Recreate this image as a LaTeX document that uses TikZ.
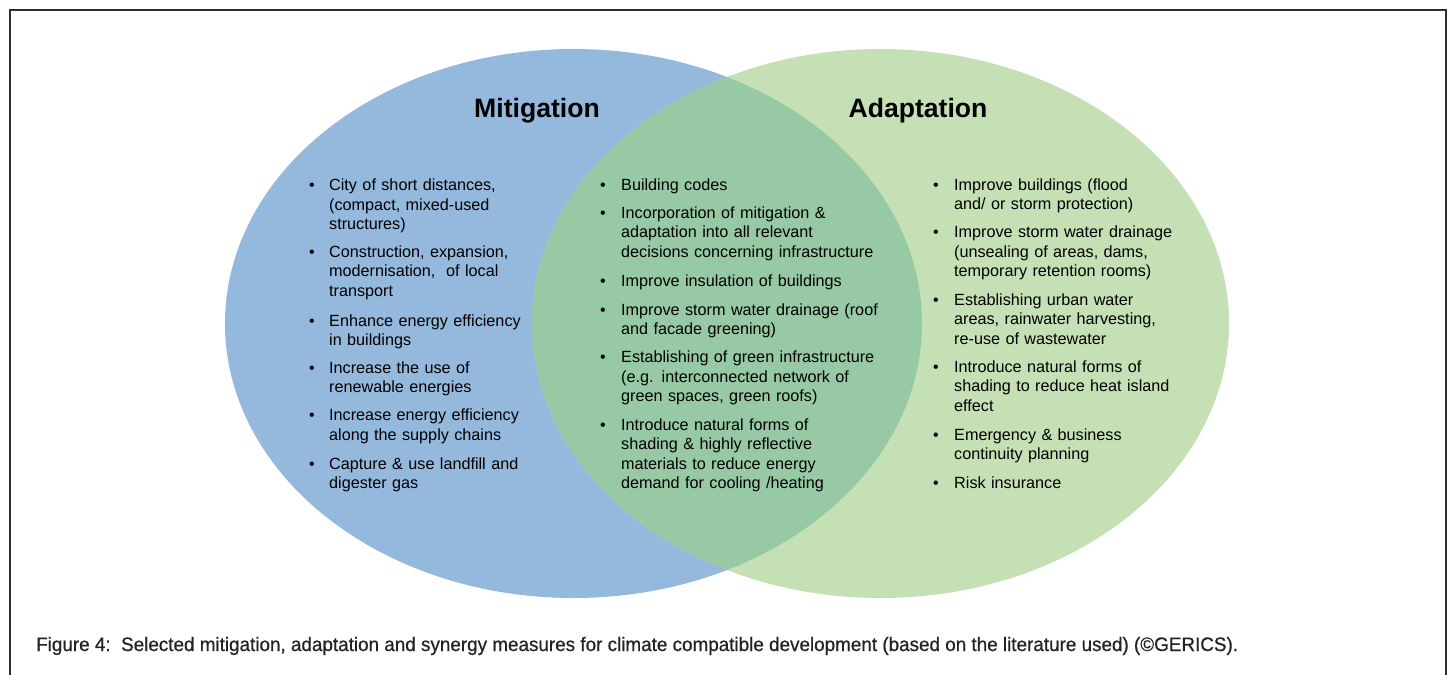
\documentclass[tikz,border=0pt]{standalone}
\usepackage{fontspec}
\setmainfont{Liberation Sans}
\usepackage{graphicx}
\definecolor{mitblue}{RGB}{149,185,221}
\definecolor{adagreen}{RGB}{197,224,180}
\definecolor{syngreen}{RGB}{150,201,164}
\definecolor{framegray}{RGB}{45,45,45}
\definecolor{captext}{RGB}{35,35,35}
\tikzset{
  itm/.style={inner sep=0pt, text width=300pt, align=left, anchor=base west,
    font=\fontsize{16.2}{19.5}\selectfont},
  blt/.style={inner sep=0pt, anchor=base, font=\fontsize{16}{19.5}\selectfont},
  ttl/.style={inner sep=0pt, anchor=base, font=\fontsize{26.6}{30}\selectfont\bfseries},
  framestyle/.style={draw=framegray, line width=2pt},
}
\newcommand{\bitem}[5]{%
  \node[itm] (#1) at (#2,#3) {#5};
  \node[blt] (#1b) at (#4,#3) {•};
}
\begin{document}
\begin{tikzpicture}[x=1pt,y=-1pt]
\useasboundingbox (0,0) rectangle (1452,675);
\fill[white] (0,0) rectangle (1452,675);
\draw[framestyle] (10,690) -- (10,10) -- (1446,10) -- (1446,690);
% ellipses
\fill[mitblue] (573.5,323.5) ellipse [x radius=348.5, y radius=274.5];
\fill[adagreen] (880.5,323.5) ellipse [x radius=348.5, y radius=274.5];
\begin{scope}
  \clip (573.5,323.5) ellipse [x radius=348.5, y radius=274.5];
  \fill[syngreen] (880.5,323.5) ellipse [x radius=348.5, y radius=274.5];
\end{scope}
% titles
\node[ttl] (mit) at (537,117.3) {Mitigation};
\node[ttl] (ada) at (918,117.3) {Adaptation};
% left column
\bitem{m1}{329}{190.7}{312}{City of short distances,\\(compact, mixed-used\\structures)}
\bitem{m2}{329}{257.3}{312}{Construction, expansion,\\modernisation,\ \ of local\\transport}
\bitem{m3}{329}{326}{312}{Enhance energy efficiency\\in buildings}
\bitem{m4}{329}{373.3}{312}{Increase the use of\\renewable energies}
\bitem{m5}{329}{420.7}{312}{Increase energy efficiency\\along the supply chains}
\bitem{m6}{329}{469.3}{312}{Capture \& use landfill and\\digester gas}
% middle column
\bitem{s1}{621}{190}{603}{Building codes}
\bitem{s2}{621}{218.3}{603}{Incorporation of mitigation \&\\adaptation into all relevant\\decisions concerning infrastructure}
\bitem{s3}{621}{286}{603}{Improve insulation of buildings}
\bitem{s4}{621}{315}{603}{Improve storm water drainage (roof\\and facade greening)}
\bitem{s5}{621}{362.7}{603}{Establishing of green infrastructure\\(e.g. interconnected network of\\green spaces, green roofs)}
\bitem{s6}{621}{430}{603}{Introduce natural forms of\\shading \& highly reflective\\materials to reduce energy\\demand for cooling /heating}
% right column
\bitem{a1}{954}{190}{936}{Improve buildings (flood\\and/ or storm protection)}
\bitem{a2}{954}{237.7}{936}{Improve storm water drainage\\(unsealing of areas, dams,\\temporary retention rooms)}
\bitem{a3}{954}{305}{936}{Establishing urban water\\areas, rainwater harvesting,\\re-use of wastewater}
\bitem{a4}{954}{372.3}{936}{Introduce natural forms of\\shading to reduce heat island\\effect}
\bitem{a5}{954}{440}{936}{Emergency \& business\\continuity planning}
\bitem{a6}{954}{488.3}{936}{Risk insurance}
% caption
\node[inner sep=0pt, anchor=base west, text=captext, font=\fontsize{19.5}{22}\selectfont\addfontfeature{FakeBold=0.6}] (cap) at (36,651)
  {\resizebox{1202pt}{\height}{Figure 4:\ \ Selected mitigation, adaptation and synergy measures for climate compatible development (based on the literature used) (©GERICS).}};
\end{tikzpicture}
\end{document}
